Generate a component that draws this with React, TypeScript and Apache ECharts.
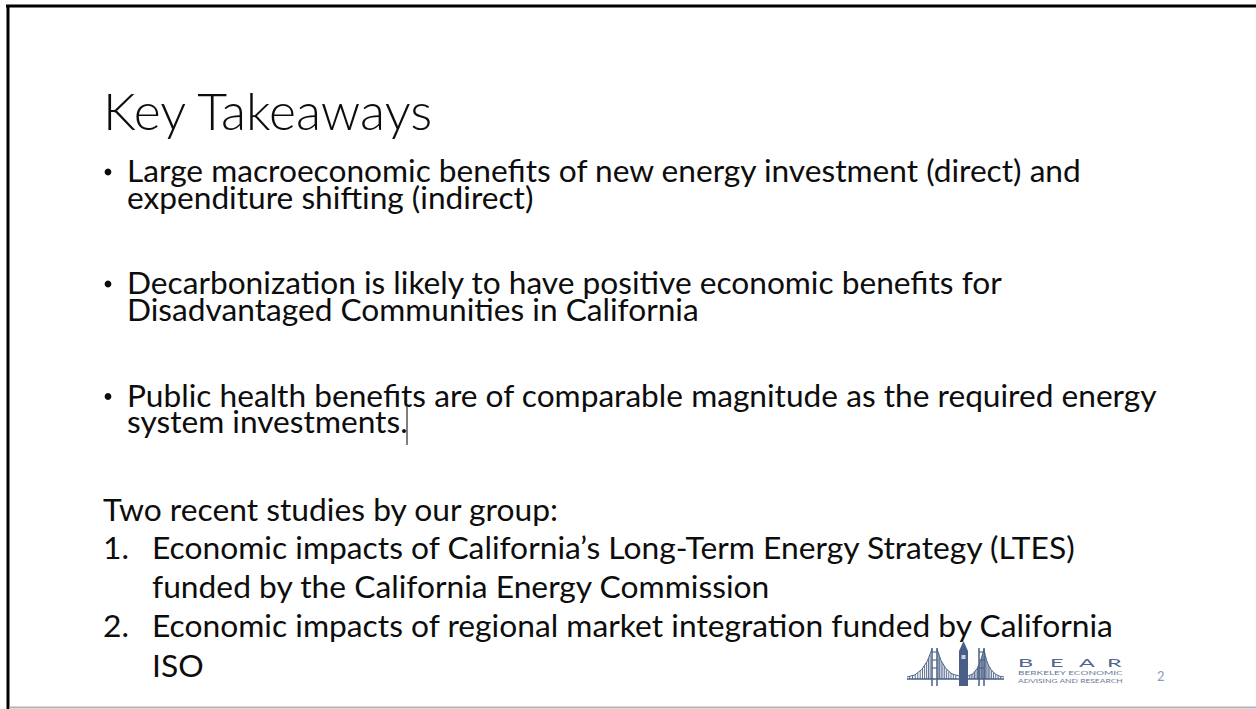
import React, { useEffect, useRef } from 'react';
import * as echarts from 'echarts';

// ---- content ----
const slideTitle = 'Key Takeaways';
const bulletLines: string[][] = [
  ['Large macroeconomic benefits of new energy investment (direct) and', 'expenditure shifting (indirect)'],
  ['Decarbonization is likely to have positive economic benefits for', 'Disadvantaged Communities in California'],
  ['Public health benefits are of comparable magnitude as the required energy', 'system investments.'],
];
const studiesIntro = 'Two recent studies by our group:';
const studyNumbers = ['1.', '2.'];
const studyLines: string[][] = [
  ['Economic impacts of California\u2019s Long-Term Energy Strategy (LTES)', 'funded by the California Energy Commission'],
  ['Economic impacts of regional market integration funded by California', 'ISO'],
];
const logoLetters = ['B', 'E', 'A', 'R'];
const logoSubLines = ['BERKELEY ECONOMIC', 'ADVISING AND RESEARCH'];
const pageNumber = '2';

const FONT = 'Lato, Carlito, Calibri, "Open Sans", sans-serif';

export default function App() {
  const ref = useRef<HTMLDivElement>(null);
  useEffect(() => {
    if (!ref.current) return;
    const chart = echarts.init(ref.current, undefined, { renderer: 'svg' });
    const cv = document.createElement('canvas');
    const ctx = cv.getContext('2d') as CanvasRenderingContext2D;
    const measure = (t: string, size: number, weight: number | string = 400) => {
      ctx.font = `${weight} ${size}px ${FONT}`;
      return ctx.measureText(t).width;
    };
    const midOffset = (size: number, weight: number | string = 400) => {
      ctx.font = `${weight} ${size}px ${FONT}`;
      ctx.textBaseline = 'middle';
      const m: any = ctx.measureText('x');
      ctx.textBaseline = 'alphabetic';
      if (m && typeof m.alphabeticBaseline === 'number' && m.alphabeticBaseline !== 0) return Math.abs(m.alphabeticBaseline);
      return size * 0.32;
    };
    const fitSize = (pairs: [string, number][], weight: number | string = 400) => {
      let tw = 0, mw = 0;
      pairs.forEach(([t, w]) => { tw += w; mw += measure(t, 100, weight); });
      return (100 * tw) / mw;
    };

    const ink = '#0d0d0d';
    const els: any[] = [];
    const text = (t: string, x: number, baseline: number, size: number, opts: any = {}) => {
      const weight = opts.weight ?? 400;
      els.push({
        type: 'text', silent: true, x, y: baseline - midOffset(size, weight),
        scaleX: opts.scaleX ?? 1,
        style: {
          text: t, fontSize: size, fontFamily: FONT, fontWeight: weight,
          fill: opts.fill ?? ink, align: opts.align ?? 'left', verticalAlign: 'middle',
        },
      });
    };
    // multi-line block: first baseline + fixed line pitch
    const block = (ls: string[], x: number, baseline: number, size: number, pitch: number) => {
      els.push({
        type: 'text', silent: true, x, y: baseline - midOffset(size) - pitch / 2,
        style: {
          text: ls.join('\n'), fontSize: size, fontFamily: FONT, fontWeight: 400,
          fill: ink, align: 'left', verticalAlign: 'top', lineHeight: pitch,
        },
      });
    };
    const line = (x1: number, y1: number, x2: number, y2: number, stroke: string, w: number) => {
      els.push({ type: 'line', silent: true, shape: { x1, y1, x2, y2 }, style: { stroke, lineWidth: w } });
    };

    // frame
    line(6, 6, 1256, 6, '#000', 3);
    line(8, 5, 8, 709, '#000', 3);
    line(9.5, 707.5, 1256, 707.5, '#b4b4b4', 2);

    // title
    const titleSize = fitSize([[slideTitle, 332]], 300);
    text(slideTitle, 103, 127, titleSize, { weight: 300 });

    // bullets
    const bulletSize = fitSize([
      [bulletLines[0][0], 958], [bulletLines[1][0], 868], [bulletLines[2][0], 1036],
    ]);
    const bulletFirstBase = [180.5, 292.5, 405];
    const bulletPitch = 26.5;
    bulletLines.forEach((ls, i) => {
      els.push({
        type: 'circle', silent: true,
        shape: { cx: 108, cy: bulletFirstBase[i] - bulletSize * 0.27, r: 3.4 },
        style: { fill: ink },
      });
      block(ls, 127, bulletFirstBase[i], bulletSize, bulletPitch);
    });
    // caret after "investments."
    line(407, 406, 407, 445, '#555', 1.5);

    // studies
    const studySize = fitSize([
      [studiesIntro, 469], [studyLines[0][0], 915], [studyLines[1][0], 960],
    ]);
    text(studiesIntro, 103, 519, studySize);
    const studyBase = [[557, 596], [635, 675]];
    studyLines.forEach((ls, i) => {
      text(studyNumbers[i], 103, studyBase[i][0], studySize);
      ls.forEach((l, j) => text(l, 152, studyBase[i][j], studySize));
    });

    // logo: bridge
    const lc = '#4a5f85';
    const deckY = 679;
    line(907, deckY, 1004, deckY, lc, 1.6);
    const tower = (x: number) => {
      line(x, 648, x, 686, lc, 1.5);
      line(x + 5, 648, x + 5, 686, lc, 1.5);
      [652, 660, 668].forEach((yy) => line(x, yy, x + 5, yy, lc, 1.1));
    };
    tower(932);
    tower(979);
    els.push({ type: 'rect', silent: true, shape: { x: 959, y: 651, width: 9, height: 35 }, style: { fill: lc } });
    els.push({ type: 'polygon', silent: true, shape: { points: [[959, 651], [963.5, 641], [968, 651]] }, style: { fill: lc } });
    els.push({ type: 'rect', silent: true, shape: { x: 961.5, y: 655, width: 4, height: 4 }, style: { fill: '#c9d2e0' } });
    const cable = (p0: number[], c: number[], p1: number[]) => {
      els.push({ type: 'bezierCurve', silent: true, shape: { x1: p0[0], y1: p0[1], cpx1: c[0], cpy1: c[1], x2: p1[0], y2: p1[1] }, style: { stroke: lc, lineWidth: 1, fill: 'none' } });
      for (let t = 0.08; t < 0.96; t += 0.09) {
        const x = (1 - t) * (1 - t) * p0[0] + 2 * t * (1 - t) * c[0] + t * t * p1[0];
        const y = (1 - t) * (1 - t) * p0[1] + 2 * t * (1 - t) * c[1] + t * t * p1[1];
        if (y < deckY - 1) line(x, y, x, deckY, lc, 0.9);
      }
    };
    cable([907, 677], [924, 676], [932, 649]);
    cable([937, 649], [944, 675], [959, 676]);
    cable([968, 676], [978, 675], [984, 649]);
    cable([984, 649], [988, 676], [1004, 677]);

    // logo: text
    const bearXs = [1018, 1050, 1079, 1107];
    logoLetters.forEach((L, i) => text(L, bearXs[i], 666, 12, { fill: '#52678c', scaleX: 1.95 }));
    logoSubLines.forEach((s, i) => {
      const sz = 5.2;
      const sx = 105 / measure(s, sz);
      text(s, 1018, 674.5 + i * 8, sz, { fill: '#6a7c9a', scaleX: sx });
    });
    text(pageNumber, 1157, 680, 13, { fill: '#8c9cb6' });

    chart.setOption({ animation: false, graphic: { elements: els } });
    return () => chart.dispose();
  }, []);
  return (
    <div
      ref={ref}
      style={{ position: 'fixed', left: 0, top: 0, width: 1256, height: 709, background: '#fff' }}
    />
  );
}
